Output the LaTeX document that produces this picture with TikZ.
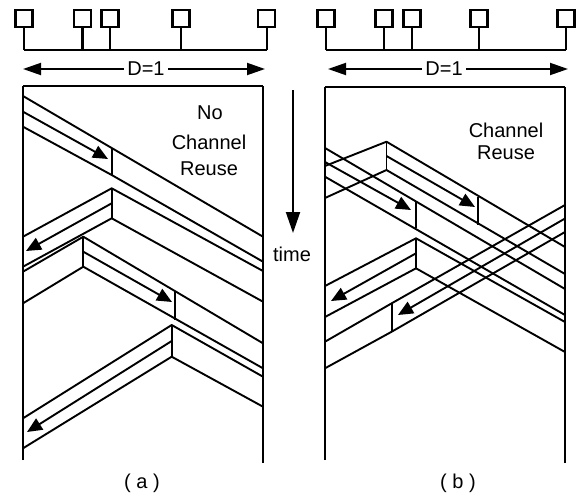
\documentclass[tikz,border=0pt]{standalone}
\usepackage{fontspec}
\setmainfont{Liberation Sans}
\usetikzlibrary{arrows.meta}
\begin{document}
\begin{tikzpicture}[x=1pt,y=-1pt,
  wall/.style={line width=2.8pt},
  edge/.style={line width=2.2pt},
  sig/.style={line width=1.9pt, line join=round},
  msg/.style={line width=1.9pt, -{Triangle[length=15pt,width=13pt]}},
  stn/.style={draw, line width=2.5pt, minimum size=17pt, inner sep=0pt},
  stem/.style={line width=2.2pt},
  darr/.style={line width=1.9pt, {Triangle[length=18pt,width=12pt]}-{Triangle[length=18pt,width=12pt]}},
  lbl/.style={font=\fontsize{20}{22}\selectfont, inner sep=1pt},
  dlbl/.style={font=\fontsize{20}{22}\selectfont, fill=white, inner sep=3pt}
]
\useasboundingbox (0,0) rectangle (583,498);

% ---------------- panel (a) ----------------
\foreach \n/\x in {1/24,2/82.5,3/110,4/181,5/266.7}{
  \node[stn] (as\n) at (\x,18.5) {};
  \coordinate (ab\n) at (\x,50);
  \draw[stem] (as\n.south) -- (ab\n);
}
\draw[stem] (ab1) -- (ab5);
\coordinate (adl) at (23,69); \coordinate (adr) at (265,69);
\draw[darr] (adl) -- (adr);
\node[dlbl] (aD) at (146,69) {D=1};

\coordinate (aTL) at (23,86); \coordinate (aTR) at (263,86);
\coordinate (aBL) at (23,460); \coordinate (aBR) at (263,463);
\draw[edge] (aTL) -- (aTR);
\draw[wall] (aBL) -- (aTL);
\draw[wall] (aBR) -- (aTR);

% T1 from station 1
\draw[sig] (23,96) -- (263,236.7);
\draw[sig] (23,126.7) -- (111.7,175) -- (263,261.7);
\draw[msg] (23,111.7) -- (108,159);
\draw[sig] (111.7,148) -- (111.7,175);
% T2 from station 3
\draw[sig] (23,236.7) -- (111.7,188.3) -- (263,271);
\draw[sig] (23,266.7) -- (111.7,218.3) -- (263,301.7);
\draw[sig] (111.7,188.3) -- (111.7,218.3);
\draw[msg] (111.7,203.3) -- (26,251);
% T3 from station 2
\draw[sig] (23,271.7) -- (83.3,236.7) -- (263,343.3);
\draw[sig] (23,303.3) -- (83.3,266.7) -- (263,368.3);
\draw[sig] (83.3,236.7) -- (83.3,266.7);
\draw[msg] (83.3,251.7) -- (172,302);
\draw[sig] (175,291.7) -- (175,320);
% T4 from station 4
\draw[sig] (23,418.3) -- (171.7,325) -- (263,376.7);
\draw[sig] (23,448.3) -- (171.7,356.7) -- (263,406.7);
\draw[sig] (171.7,325) -- (171.7,356.7);
\draw[msg] (171.7,341) -- (27,432);

\node[lbl] (aNo) at (210,113) {No};
\node[lbl] (aCh) at (209,142) {Channel};
\node[lbl] (aRe) at (209,169) {Reuse};
\node[lbl] (aCap) at (142,483) {( a )};

% ---------------- time arrow ----------------
\coordinate (t0) at (293,90); \coordinate (t1) at (293,233);
\draw[line width=1.9pt, -{Triangle[length=21pt,width=14pt]}] (t0) -- (t1);
\node[lbl] (time) at (292,254) {time};

% ---------------- panel (b) ----------------
\foreach \n/\x in {1/326,2/384,3/412,4/479,5/566}{
  \node[stn] (bs\n) at (\x,18.5) {};
  \coordinate (bb\n) at (\x,50);
  \draw[stem] (bs\n.south) -- (bb\n);
}
\draw[stem] (bb1) -- (bb5);
\coordinate (bdl) at (328,69); \coordinate (bdr) at (568,69);
\draw[darr] (bdl) -- (bdr);
\node[dlbl] (bD) at (444,69) {D=1};

\coordinate (bTL) at (325,87); \coordinate (bTR) at (565,87);
\coordinate (bBL) at (325,460); \coordinate (bBR) at (565,463);
\draw[edge] (bTL) -- (bTR);
\draw[wall] (bBL) -- (bTL);
\draw[wall] (bBR) -- (bTR);

% T1 from station 1
\draw[sig] (325,148) -- (565,289);
\draw[sig] (325,176.7) -- (565,315);
\draw[msg] (325,162) -- (411,210);
\draw[sig] (416,201.7) -- (416,228.3);
% T2 from station 2
\draw[sig] (325,166) -- (386.5,141.7) -- (565,247);
\draw[sig] (325,198) -- (386.5,170) -- (565,274);
\draw[sig] (386.5,141.7) -- (386.5,170);
\draw[msg] (386.5,156) -- (475,207);
\draw[sig] (478,196.7) -- (478,225);
% T5 from station 5
\draw[sig] (565,205) -- (391.7,303.3) -- (325,341.7);
\draw[sig] (565,232) -- (391.7,331.7) -- (325,368.3);
\draw[sig] (391.7,303.3) -- (391.7,331.7);
\draw[msg] (565,218.5) -- (398,315);
% T6 from station 3
\draw[sig] (325,286) -- (416,238.3) -- (565,322);
\draw[sig] (325,317) -- (416,268.3) -- (565,352);
\draw[sig] (416,238.3) -- (416,268.3);
\draw[msg] (416,253.3) -- (331,301);

\node[lbl] (bCh) at (506,130) {Channel};
\node[lbl] (bRe) at (506,153) {Reuse};
\node[lbl] (bCap) at (458,483) {( b )};
\end{tikzpicture}
\end{document}
